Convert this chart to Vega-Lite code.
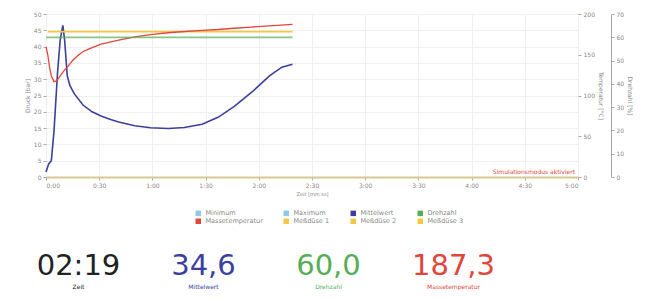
{
  "$schema": "https://vega.github.io/schema/vega-lite/v6.json",
  "background": "white",
  "padding": {"left": 23, "top": 10, "right": 5, "bottom": 0},
  "spacing": 55,
  "config": {
    "font": "DejaVu Sans",
    "view": {"stroke": "#9a9a9a", "strokeWidth": 1},
    "axis": {
      "labelFontSize": 6, "labelColor": "#888", "titleFontSize": 6, "titleColor": "#888",
      "titleFontWeight": "normal", "tickColor": "#aaa", "domainColor": "#aaa", "gridColor": "#efefef",
      "tickSize": 3, "labelPadding": 2, "titlePadding": 3
    }
  },
  "datasets": {
    "links": [
      {"t": 0, "wert": 1.5, "serie": "Mittelwert"},
      {"t": 1.5, "wert": 4, "serie": "Mittelwert"},
      {"t": 3, "wert": 5, "serie": "Mittelwert"},
      {"t": 4.5, "wert": 14, "serie": "Mittelwert"},
      {"t": 6.5, "wert": 32, "serie": "Mittelwert"},
      {"t": 8, "wert": 42, "serie": "Mittelwert"},
      {"t": 9.5, "wert": 46.5, "serie": "Mittelwert"},
      {"t": 10.5, "wert": 42, "serie": "Mittelwert"},
      {"t": 12, "wert": 31, "serie": "Mittelwert"},
      {"t": 13.5, "wert": 28, "serie": "Mittelwert"},
      {"t": 16, "wert": 25.5, "serie": "Mittelwert"},
      {"t": 21, "wert": 22, "serie": "Mittelwert"},
      {"t": 26, "wert": 20, "serie": "Mittelwert"},
      {"t": 31, "wert": 18.7, "serie": "Mittelwert"},
      {"t": 36, "wert": 17.7, "serie": "Mittelwert"},
      {"t": 41, "wert": 16.9, "serie": "Mittelwert"},
      {"t": 50, "wert": 15.7, "serie": "Mittelwert"},
      {"t": 59, "wert": 15.1, "serie": "Mittelwert"},
      {"t": 69, "wert": 14.9, "serie": "Mittelwert"},
      {"t": 78, "wert": 15.2, "serie": "Mittelwert"},
      {"t": 88, "wert": 16.2, "serie": "Mittelwert"},
      {"t": 97, "wert": 18.3, "serie": "Mittelwert"},
      {"t": 106, "wert": 21.6, "serie": "Mittelwert"},
      {"t": 116, "wert": 26, "serie": "Mittelwert"},
      {"t": 126, "wert": 31, "serie": "Mittelwert"},
      {"t": 133, "wert": 33.7, "serie": "Mittelwert"},
      {"t": 139, "wert": 34.6, "serie": "Mittelwert"},
      {"t": 1, "wert": 44.6, "serie": "Meßdüse 1"},
      {"t": 139, "wert": 44.6, "serie": "Meßdüse 1"}
    ],
    "temp": [
      {"t": 0, "wert": 160}, {"t": 1, "wert": 150}, {"t": 2, "wert": 135}, {"t": 3, "wert": 124},
      {"t": 4.5, "wert": 117}, {"t": 6, "wert": 118}, {"t": 8, "wert": 124}, {"t": 10, "wert": 130},
      {"t": 12.5, "wert": 136}, {"t": 15, "wert": 143}, {"t": 18, "wert": 149}, {"t": 21, "wert": 154},
      {"t": 24, "wert": 157}, {"t": 31, "wert": 163}, {"t": 41, "wert": 168}, {"t": 50, "wert": 172},
      {"t": 60, "wert": 175}, {"t": 69, "wert": 177}, {"t": 78, "wert": 178.5}, {"t": 88, "wert": 180},
      {"t": 97, "wert": 181}, {"t": 106, "wert": 182.5}, {"t": 116, "wert": 184}, {"t": 126, "wert": 185.5},
      {"t": 139, "wert": 187.3}
    ],
    "drehzahl": [
      {"t": 0, "wert": 60}, {"t": 139, "wert": 60}
    ],
    "hinweis": [
      {"t": 300, "wert": 0, "text": "Simulationsmodus aktiviert"}
    ],
    "anzeige": [
      {"name": "Zeit", "wert": "02:19"},
      {"name": "Mittelwert", "wert": "34,6"},
      {"name": "Drehzahl", "wert": "60,0"},
      {"name": "Massetemperatur", "wert": "187,3"}
    ]
  },
  "vconcat": [
    {
      "width": 532,
      "height": 163,
      "layer": [
        {
          "data": {"name": "links"},
          "mark": {"type": "line", "strokeWidth": 1.6},
          "encoding": {
            "x": {
              "field": "t", "type": "quantitative",
              "scale": {"domain": [0, 300], "nice": false},
              "axis": {
                "values": [0, 30, 60, 90, 120, 150, 180, 210, 240, 270, 300],
                "labelExpr": "floor(datum.value/60) + ':' + (datum.value % 60 < 10 ? '0' : '') + (datum.value % 60)",
                "title": "Zeit [mm:ss]", "titleFontSize": 5, "grid": true,
                "domainColor": "#d8c896", "domainWidth": 2
              }
            },
            "y": {
              "field": "wert", "type": "quantitative",
              "scale": {"domain": [0, 50], "nice": false},
              "axis": {"values": [0, 5, 10, 15, 20, 25, 30, 35, 40, 45, 50], "title": "Druck [bar]", "grid": true, "domain": false}
            },
            "strokeWidth": {
              "field": "serie", "type": "nominal", "legend": null,
              "scale": {"domain": ["Mittelwert", "Meßdüse 1"], "range": [1.8, 1]}
            },
            "color": {
              "field": "serie", "type": "nominal",
              "scale": {
                "domain": ["Minimum", "Maximum", "Mittelwert", "Drehzahl", "Massetemperatur", "Meßdüse 1", "Meßdüse 2", "Meßdüse 3", "Zeit"],
                "range": ["#8ecae8", "#8ecae8", "#3c3f9e", "#55ae55", "#e0463a", "#f2c744", "#f2c744", "#f2c744", "#222222"]
              },
              "legend": {
                "orient": "none", "legendX": 149, "legendY": 196,
                "values": ["Minimum", "Maximum", "Mittelwert", "Drehzahl", "Massetemperatur", "Meßdüse 1", "Meßdüse 2", "Meßdüse 3"],
                "direction": "horizontal", "columns": 4, "title": null,
                "symbolType": "square", "symbolSize": 30, "labelFontSize": 6.5, "labelColor": "#888",
                "columnPadding": 20, "rowPadding": 1,
                "encode": {"symbols": {"update": {"fill": {"scale": "color", "field": "value"}, "strokeWidth": {"value": 0}}}}
              }
            }
          }
        },
        {
          "layer": [
            {
              "data": {"name": "temp"},
              "mark": {"type": "line", "strokeWidth": 1.3},
              "encoding": {
                "x": {"field": "t", "type": "quantitative"},
                "y": {
                  "field": "wert", "type": "quantitative",
                  "scale": {"domain": [0, 200], "nice": false},
                  "axis": {"orient": "right", "values": [0, 25, 50, 75, 100, 125, 150, 175, 200], "title": "Temperatur [°C]", "grid": false, "domain": false}
                },
                "color": {"datum": "Massetemperatur"}
              }
            },
            {
              "data": {"name": "hinweis"},
              "mark": {"type": "text", "align": "right", "baseline": "bottom", "fontSize": 6, "color": "#e0463a", "dx": -3, "dy": -2},
              "encoding": {
                "x": {"field": "t", "type": "quantitative"},
                "y": {"field": "wert", "type": "quantitative"},
                "text": {"field": "text"}
              }
            }
          ]
        },
        {
          "data": {"name": "drehzahl"},
          "mark": {"type": "line", "strokeWidth": 1.8, "opacity": 0.7},
          "encoding": {
            "x": {"field": "t", "type": "quantitative"},
            "y": {
              "field": "wert", "type": "quantitative",
              "scale": {"domain": [0, 70], "nice": false},
              "axis": {"orient": "right", "offset": 33, "values": [0, 10, 20, 30, 40, 50, 60, 70], "title": "Drehzahl [%]", "grid": false}
            },
            "color": {"datum": "Drehzahl"}
          }
        }
      ],
      "resolve": {"scale": {"y": "independent"}}
    },
    {
      "width": 532,
      "height": 36,
      "view": {"stroke": null},
      "data": {"name": "anzeige"},
      "encoding": {
        "x": {
          "field": "name", "type": "nominal", "sort": null,
          "scale": {"domain": ["Zeit", "Mittelwert", "Drehzahl", "Massetemperatur"], "range": [-30, 470]},
          "axis": null
        },
        "color": {"field": "name", "type": "nominal"}
      },
      "layer": [
        {
          "mark": {"type": "text", "fontSize": 29, "baseline": "alphabetic"},
          "encoding": {"text": {"field": "wert"}}
        },
        {
          "mark": {"type": "text", "fontSize": 6, "baseline": "top", "dy": 9},
          "encoding": {"text": {"field": "name"}}
        }
      ]
    }
  ]
}
